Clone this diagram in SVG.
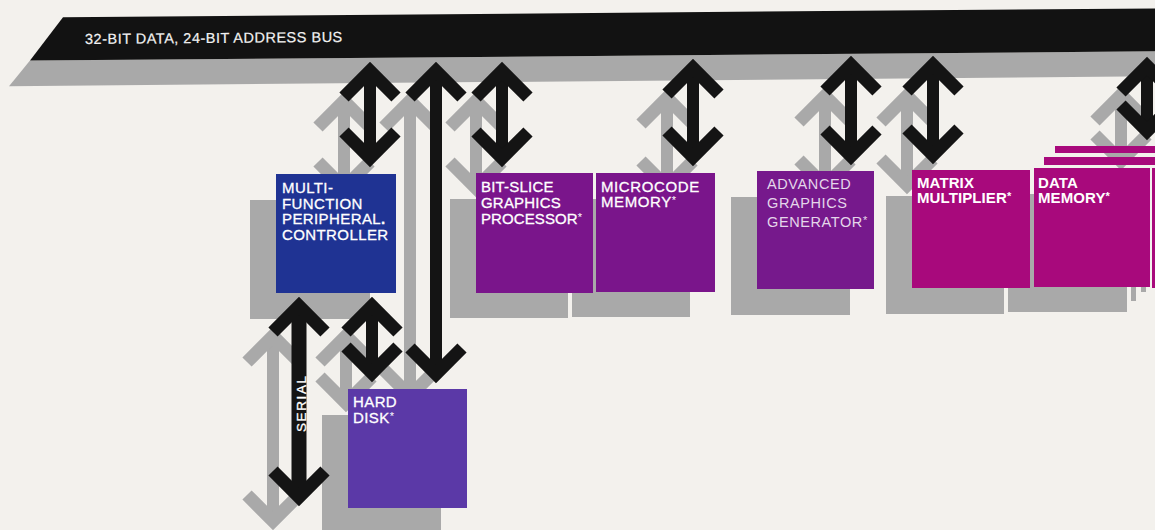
<svg xmlns="http://www.w3.org/2000/svg" width="1155" height="530" viewBox="0 0 1155 530">
  <style>
    .sh { fill: #a9a9a9; }
    .t { font-family: "Liberation Sans", Arial, Helvetica, sans-serif; font-size: 15px; fill: #ffffff; stroke: #ffffff; stroke-width: 0.3px; letter-spacing: 0.4px; }
    .tb { font-weight: bold; stroke-width: 0; letter-spacing: 0.1px; }
    .tl { fill: #e4d6ea; stroke: none; font-size: 14.5px; letter-spacing: 0.6px; }
    .sup { font-size: 11px; stroke-width: 0; }
    .ab { stroke: #141414; stroke-width: 12; fill: none; marker-start: url(#hb); marker-end: url(#hb); }
    .ag { stroke: #a9a9a9; stroke-width: 12; fill: none; marker-start: url(#hg); marker-end: url(#hg); }
  </style>
  <defs>
    <marker id="hb" markerUnits="userSpaceOnUse" orient="auto-start-reverse" overflow="visible" markerWidth="1" markerHeight="1" refX="0" refY="0">
      <path d="M-26,-26 L0,0 L-26,26" fill="none" stroke="#141414" stroke-width="13" stroke-linejoin="miter"/>
    </marker>
    <marker id="hg" markerUnits="userSpaceOnUse" orient="auto-start-reverse" overflow="visible" markerWidth="1" markerHeight="1" refX="0" refY="0">
      <path d="M-26,-26 L0,0 L-26,26" fill="none" stroke="#a9a9a9" stroke-width="13" stroke-linejoin="miter"/>
    </marker>
  </defs>

  <rect x="0" y="0" width="1155" height="530" fill="#f3f1ed"/>

  <g id="bus">
    <polygon points="30,60.6 1155,51.3 1155,76.3 9,86.2" fill="#a9a9a9"/>
    <polygon points="63,17.3 1155,8.4 1155,51.3 30,60.6" fill="#121212"/>
    <text class="t" x="85" y="44" transform="rotate(-0.47 85 44)" style="font-size:14.5px;letter-spacing:0.5px;fill:#f2f2f2;stroke:#f2f2f2;stroke-width:0.2px">32-BIT DATA, 24-BIT ADDRESS BUS</text>
  </g>

  <g id="shadows">
    <rect class="sh" x="250" y="200" width="120" height="119"/>
    <rect class="sh" x="450" y="199" width="118" height="119"/>
    <rect class="sh" x="572" y="199" width="118" height="118"/>
    <rect class="sh" x="731" y="197" width="119" height="118"/>
    <rect class="sh" x="886" y="196" width="118" height="118"/>
    <rect class="sh" x="1008" y="194" width="119" height="118"/>
    <rect class="sh" x="1131" y="285" width="5" height="16"/>
    <rect class="sh" x="1141" y="285" width="5" height="7"/>
    <rect class="sh" x="322" y="415" width="119" height="120"/>
  </g>

  <g id="connector-shadows">
    <line class="ag" x1="344" y1="101" x2="344" y2="188"/>
    <line class="ag" x1="410" y1="101" x2="410" y2="396"/>
    <line class="ag" x1="476" y1="101" x2="476" y2="188"/>
    <line class="ag" x1="667" y1="98" x2="667" y2="187"/>
    <line class="ag" x1="825" y1="96" x2="825" y2="186"/>
    <line class="ag" x1="907" y1="96" x2="907" y2="185"/>
    <line class="ag" x1="1121" y1="95" x2="1121" y2="161"/>
    <line class="ag" x1="273" y1="336" x2="273" y2="521"/>
    <line class="ag" x1="346" y1="336" x2="346" y2="403"/>
  </g>

  <g id="mfpc">
    <rect x="276" y="174" width="120" height="119" fill="#1f3393"/>
    <text class="t" x="282" y="193">MULTI-</text>
    <text class="t" x="282" y="208.5">FUNCTION</text>
    <text class="t" x="282" y="224.3">PERIPHERAL<tspan font-weight="bold">.</tspan></text>
    <text class="t" x="282" y="240">CONTROLLER</text>
  </g>

  <g id="bitslice">
    <rect x="476" y="173" width="117" height="120" fill="#7a158b"/>
    <text class="t" x="481" y="192.3" style="letter-spacing:0.2px">BIT-SLICE</text>
    <text class="t" x="481" y="208.3" style="letter-spacing:0.2px">GRAPHICS</text>
    <text class="t" x="481" y="224" style="letter-spacing:0.1px">PROCESSOR<tspan class="sup" dy="-3">*</tspan></text>
  </g>

  <g id="microcode">
    <rect x="596" y="173" width="119" height="119" fill="#7a158b"/>
    <text class="t" x="601" y="192" style="letter-spacing:0.6px">MICROCODE</text>
    <text class="t" x="601" y="207" style="letter-spacing:0.6px">MEMORY<tspan class="sup" dy="-3">*</tspan></text>
  </g>

  <g id="advanced">
    <rect x="757" y="171" width="117" height="118" fill="#76198c"/>
    <text class="t tl" x="767" y="189">ADVANCED</text>
    <text class="t tl" x="767" y="208">GRAPHICS</text>
    <text class="t tl" x="767" y="227">GENERATOR<tspan class="sup" dy="-3">*</tspan></text>
  </g>

  <g id="matrix">
    <rect x="912" y="170" width="118" height="118" fill="#a8097c"/>
    <text class="t tb" x="917" y="188">MATRIX</text>
    <text class="t tb" x="917" y="203">MULTIPLIER<tspan class="sup" dy="-3">*</tspan></text>
  </g>

  <g id="datamem">
    <rect x="1055" y="146" width="100" height="7" fill="#a8097c"/>
    <rect x="1044" y="157" width="111" height="8" fill="#a8097c"/>
    <rect x="1152" y="168" width="3" height="120" fill="#a8097c"/>
    <rect x="1034" y="168" width="116" height="119" fill="#a8097c"/>
    <text class="t tb" x="1038" y="188">DATA</text>
    <text class="t tb" x="1038" y="203">MEMORY<tspan class="sup" dy="-3">*</tspan></text>
  </g>

  <g id="harddisk">
    <rect x="348" y="389" width="119" height="119" fill="#5b39a7"/>
    <text class="t" x="353" y="407">HARD</text>
    <text class="t" x="353" y="423">DISK<tspan class="sup" dy="-3">*</tspan></text>
  </g>

  <g id="connectors">
    <line class="ab" x1="370" y1="71" x2="370" y2="158"/>
    <line class="ab" x1="436" y1="71" x2="436" y2="374"/>
    <line class="ab" x1="502" y1="71" x2="502" y2="158"/>
    <line class="ab" x1="693" y1="68" x2="693" y2="157"/>
    <line class="ab" x1="851" y1="65" x2="851" y2="156"/>
    <line class="ab" x1="933" y1="65" x2="933" y2="155"/>
    <line class="ab" x1="1147" y1="66" x2="1147" y2="131"/>
    <line class="ab" x1="372" y1="306" x2="372" y2="373"/>
    <line class="ab" x1="299" y1="306" x2="299" y2="497" style="stroke-width:15"/>
    <text class="t" transform="translate(306 432) rotate(-90)" style="font-size:13.5px;letter-spacing:1.6px">SERIAL</text>
  </g>
</svg>
